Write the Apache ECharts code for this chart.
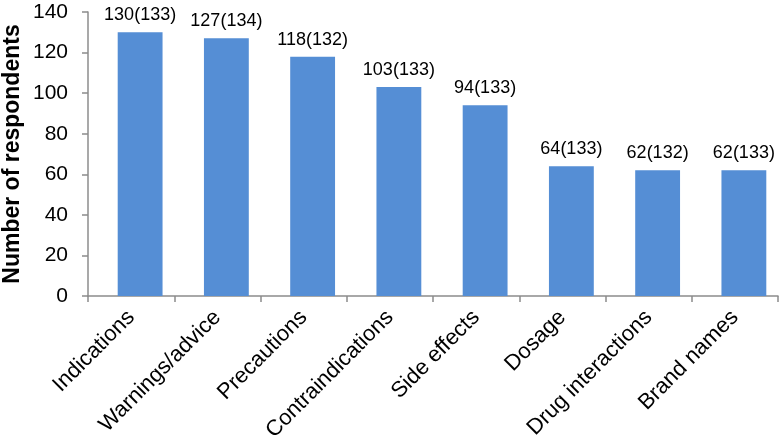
<!DOCTYPE html>
<html><head><meta charset="utf-8">
<script src="https://cdn.jsdelivr.net/npm/echarts@6/dist/echarts.min.js"></script>
<style>html,body{margin:0;padding:0;background:#fff}#c{width:780px;height:447px}</style>
</head><body><div id="c"></div>
<script>
const categories = ["Indications","Warnings/advice","Precautions","Contraindications","Side effects","Dosage","Drug interactions","Brand names"];
const values = [130,127,118,103,94,64,62,62];
const totals = [133,134,132,133,133,133,132,133];
const yTicks = {min:0,max:140,interval:20};
const font = 'Liberation Sans, Arial';
const axisGray = '#8c8c8c';
const chart = echarts.init(document.getElementById('c'));
chart.setOption({
  animation:false,
  grid:[
    {left:88,width:690,top:12,bottom:151,containLabel:false,outerBoundsMode:'none'},
    {left:97,width:690,top:12,bottom:151,containLabel:false,outerBoundsMode:'none'}
  ],
  xAxis:[
    {gridIndex:0,type:'category',data:categories,
      axisLine:{lineStyle:{color:axisGray,width:1.5}},
      axisTick:{show:true,length:6,lineStyle:{color:axisGray,width:1.5}},
      axisLabel:{rotate:45,color:'#000',fontFamily:font,fontSize:22,margin:18,interval:0}},
    {gridIndex:1,type:'category',data:categories,
      axisLine:{show:false},axisTick:{show:false},axisLabel:{show:false}}
  ],
  yAxis:[
    {gridIndex:0,type:'value',min:yTicks.min,max:yTicks.max,interval:yTicks.interval,
      name:'Number of respondents',nameLocation:'middle',nameGap:64,nameMoveOverlap:false,
      nameTextStyle:{fontFamily:font,fontWeight:'bold',fontSize:23,color:'#000'},
      splitLine:{show:false},
      axisLine:{show:true,lineStyle:{color:axisGray,width:1.5}},
      axisTick:{show:true,length:6,lineStyle:{color:axisGray,width:1.5}},
      axisLabel:{color:'#000',fontFamily:font,fontSize:21,margin:20}},
    {gridIndex:1,type:'value',min:yTicks.min,max:yTicks.max,interval:yTicks.interval,
      show:false,splitLine:{show:false}}
  ],
  series:[{type:'bar',xAxisIndex:1,yAxisIndex:1,data:values,barCategoryGap:'48%',
    itemStyle:{color:'#558ED5'},
    label:{show:true,position:'top',distance:8,color:'#000',fontFamily:font,fontSize:18,
      formatter:p=>p.value+'('+totals[p.dataIndex]+')'}}]
});
</script></body></html>
